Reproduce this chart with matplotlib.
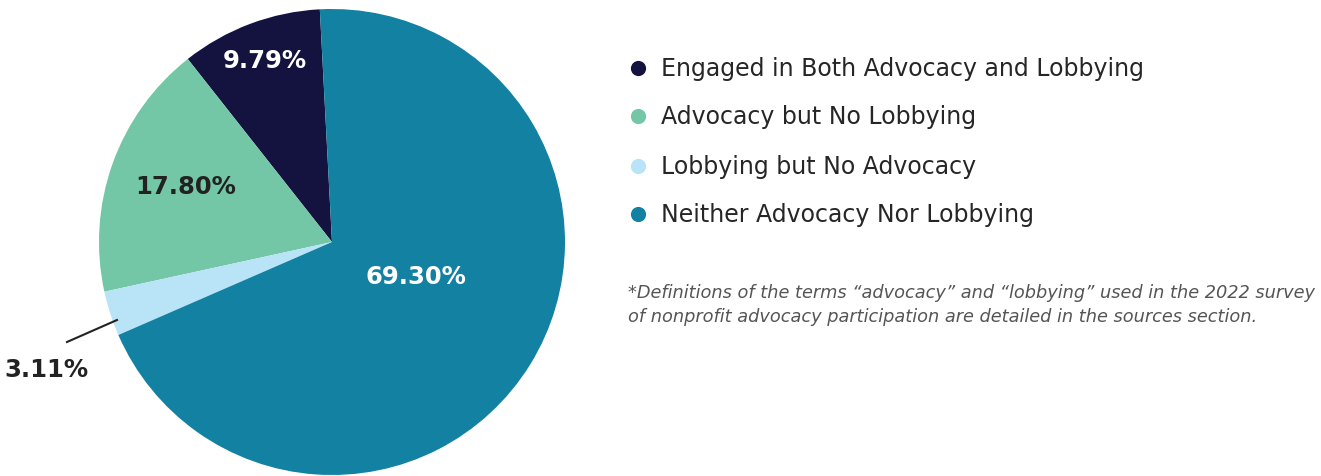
import matplotlib.pyplot as plt

# data
categories = ['Engaged in Both Advocacy and Lobbying', 'Advocacy but No Lobbying',
              'Lobbying but No Advocacy', 'Neither Advocacy Nor Lobbying']
shares = [9.79, 17.80, 3.11, 69.30]
colors = ['#141340', '#74C7A6', '#B9E4F8', '#1381A2']
label_colors = ['white', '#222222', '#222222', 'white']

W, H = 1321, 477
FONT = 'DejaVu Sans'

fig = plt.figure(figsize=(W / 100, H / 100), dpi=100)
ax = fig.add_axes([0, 0, 1, 1])

cx, cy, r = 332, H - 243, 233
ax.pie(shares, colors=colors, startangle=93, counterclock=True,
       center=(cx, cy), radius=r, frame=True,
       wedgeprops=dict(linewidth=0))
ax.set_xlim(0, W)
ax.set_ylim(0, H)
ax.set_aspect('equal')
ax.axis('off')

# slice labels (pixel positions from top-left)
label_pos = [(265, 61), (186, 187), (46, 370), (416, 277)]
for val, (px, py), c in zip(shares, label_pos, label_colors):
    ax.text(px, H - py, f'{val:.2f}%', color=c, fontsize=17.5, fontweight='bold',
            family=FONT, ha='center', va='center')
# leader line for the small slice
ax.plot([67, 117], [H - 343, H - 321], color='#222222', lw=1.5)

# legend
legend_y = [69, 117, 167, 215]
for cat, c, ly in zip(categories, colors, legend_y):
    ax.scatter([638], [H - ly], s=120, color=c, linewidths=0)
    ax.text(661, H - ly, cat, fontsize=17, color='#262626', family=FONT,
            ha='left', va='center')

note = ('*Definitions of the terms \u201cadvocacy\u201d and \u201clobbying\u201d used in the 2022 survey\n'
        'of nonprofit advocacy participation are detailed in the sources section.')
ax.text(628, H - 305, note, fontsize=12.8, color='#555555', style='italic', family=FONT,
        ha='left', va='center', linespacing=1.4)

fig.savefig('out.png', dpi=100)
